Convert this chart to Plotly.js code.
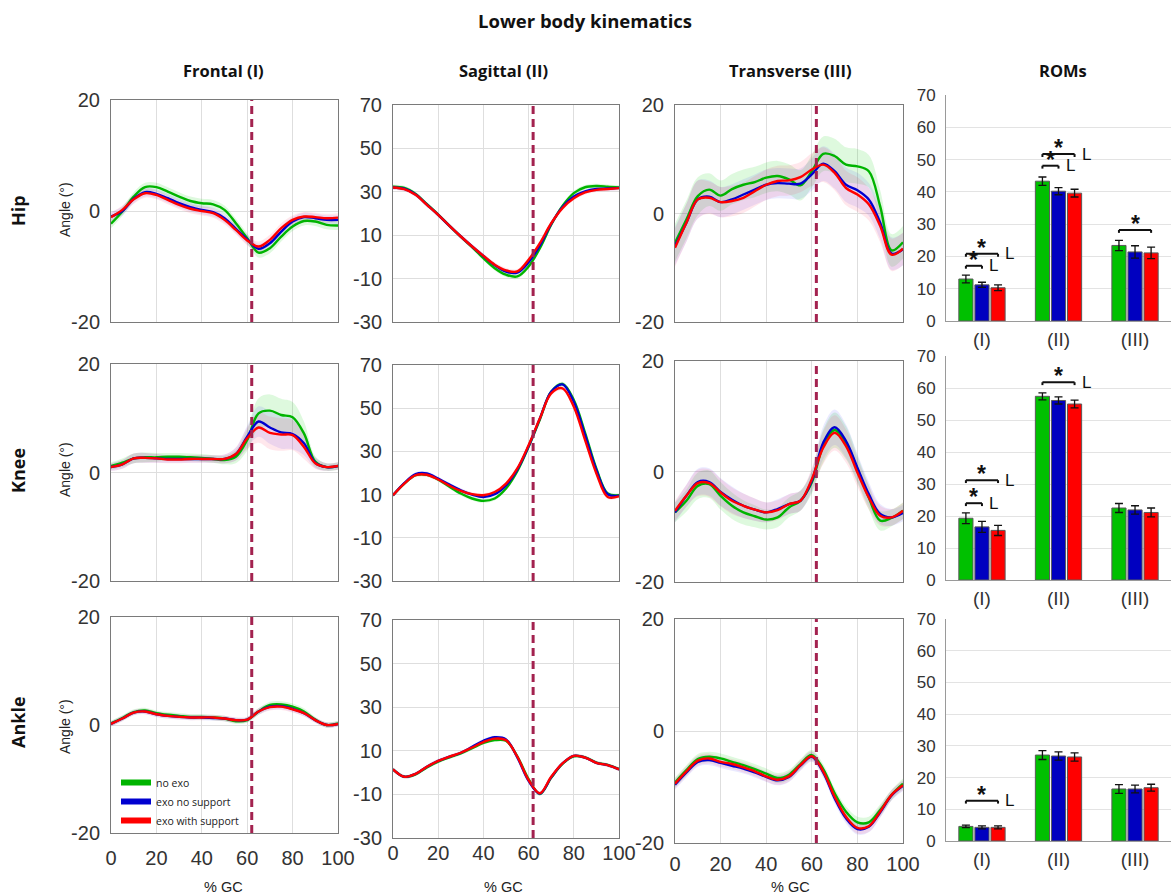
<!DOCTYPE html>
<html><head><meta charset="utf-8">
<script src="https://cdn.plot.ly/plotly-3.0.1.min.js"></script>
<style>html,body{margin:0;padding:0;background:#fff}#chart{width:1171px;height:896px}</style>
</head><body><div id="chart"></div>
<script>
// ---------------- DATA ----------------
const pctGC = [0,5,10,15,20,25,30,35,40,45,50,55,60,65,70,75,80,85,90,95,100];
const seriesNames = ['no exo','exo no support','exo with support'];
const toeOff = 62;

// Hip
const hipFrontalNoExo   = [-2.3,-0.1,2.6,4.3,4.3,3.5,2.6,1.8,1.4,1.2,0.2,-2.2,-4.9,-7.5,-6.7,-4.6,-2.8,-1.8,-1.9,-2.5,-2.6];
const hipFrontalExoNoSup= [-1.0,0.0,2.2,3.4,3.1,2.3,1.4,0.7,0.2,-0.2,-1.3,-3.2,-5.1,-6.8,-5.8,-3.7,-1.9,-1.1,-1.3,-1.6,-1.6];
const hipFrontalExoSup  = [-1.1,0.2,2.1,3.2,2.9,2.0,1.1,0.4,0.0,-0.4,-1.6,-3.4,-5.3,-6.4,-5.2,-3.1,-1.6,-1.0,-1.1,-1.3,-1.2];
const hipFrontalSD      = [0.8,0.8,0.8,0.8,0.8,0.8,0.8,0.8,0.8,0.8,0.8,0.8,0.9,0.9,0.9,0.9,0.8,0.8,0.8,0.8,0.8];

const hipSagittalNoExo   = [32.4,31.8,29.0,24.3,19.5,14.3,9.3,4.5,-0.6,-5.2,-8.2,-9.0,-4.4,4.0,14.8,23.5,29.4,32.1,32.7,32.4,32.0];
const hipSagittalExoNoSup= [32.0,31.4,28.8,24.1,19.4,14.3,9.4,4.8,0.4,-3.8,-6.8,-7.2,-2.5,5.3,15.2,23.0,27.8,30.2,31.3,31.5,31.8];
const hipSagittalExoSup  = [32.0,31.2,28.6,24.0,19.4,14.3,9.4,4.8,0.5,-3.6,-6.2,-6.7,-1.3,6.3,15.5,22.5,27.0,29.7,30.9,31.3,31.7];
const hipSagittalSD      = [1.0,1.0,1.0,1.0,1.0,1.0,1.0,1.0,1.0,1.1,1.1,1.1,1.1,1.1,1.1,1.0,1.0,1.0,1.0,1.0,1.0];

const hipTransverseNoExo   = [-5.4,-1.1,3.2,4.4,3.3,4.5,5.3,5.8,6.6,6.9,6.3,5.2,7.8,11.0,10.6,9.0,8.7,7.8,1.3,-6.8,-5.3];
const hipTransverseExoNoSup= [-6.0,-1.7,2.6,3.1,2.1,2.6,3.5,4.4,5.3,5.6,5.5,5.5,7.2,9.2,7.8,5.3,4.3,2.6,-1.7,-7.4,-6.6];
const hipTransverseExoSup  = [-6.3,-1.7,2.6,2.9,2.1,2.3,2.9,4.1,5.3,6.0,6.1,6.7,8.1,9.0,7.5,4.7,3.5,1.7,-2.3,-7.6,-6.5];
const hipTransverseSD      = [3.5,3.5,3.5,3.0,2.8,2.8,2.8,2.8,2.8,2.8,2.8,2.8,3.0,3.2,3.2,3.2,3.2,3.0,3.0,3.0,3.0];

// Knee
const kneeFrontalNoExo   = [1.2,1.8,2.6,2.8,2.8,2.9,2.9,2.8,2.7,2.5,2.3,2.9,6.0,10.9,11.4,10.6,10.2,7.2,2.0,1.0,1.2];
const kneeFrontalExoNoSup= [1.0,1.5,2.6,2.7,2.6,2.5,2.5,2.5,2.5,2.5,2.5,3.4,6.6,9.4,8.3,7.4,7.1,5.4,1.8,1.0,1.2];
const kneeFrontalExoSup  = [1.0,1.5,2.6,2.7,2.6,2.4,2.4,2.5,2.5,2.5,2.5,3.4,6.3,8.3,7.3,7.0,6.9,4.7,1.7,1.0,1.2];
const kneeFrontalSD      = [0.7,0.8,0.9,0.9,0.8,0.7,0.7,0.7,0.7,0.7,0.8,1.2,2.0,2.8,3.0,3.0,2.8,2.2,1.0,0.7,0.7];

const kneeSagittalNoExo   = [9.7,15.1,19.0,19.2,17.0,13.6,10.5,8.2,7.1,8.2,12.8,20.8,32.1,44.8,57.6,61.2,53.8,38.6,22.0,10.5,9.7];
const kneeSagittalExoNoSup= [9.7,15.3,19.5,19.8,17.4,14.6,12.0,10.0,8.9,10.2,14.3,21.6,32.4,45.3,57.6,61.0,53.0,37.5,21.3,10.2,9.5];
const kneeSagittalExoSup  = [9.7,15.1,19.0,19.2,17.0,14.1,11.7,10.2,9.7,11.2,15.1,22.1,32.9,45.3,56.9,59.2,50.7,35.2,19.8,8.9,9.2];
const kneeSagittalSD      = [0.9,0.9,0.9,0.9,0.9,0.9,0.9,0.9,0.9,0.9,0.9,0.9,1.0,1.0,1.0,1.0,1.0,1.0,0.9,0.9,0.9];

const kneeTransverseNoExo   = [-7.4,-5.3,-2.6,-2.3,-4.4,-6.2,-7.4,-8.1,-8.7,-8.3,-6.5,-5.3,-2.0,4.6,7.5,5.2,0.4,-4.7,-8.9,-8.4,-7.1];
const kneeTransverseExoNoSup= [-7.4,-4.4,-1.9,-1.9,-3.7,-5.1,-6.2,-6.9,-7.4,-6.8,-5.9,-5.3,-1.7,5.2,8.0,5.5,0.7,-4.1,-7.7,-8.3,-7.5];
const kneeTransverseExoSup  = [-7.1,-4.4,-2.1,-2.1,-3.8,-5.3,-6.2,-6.9,-7.4,-7.0,-5.9,-5.3,-1.4,4.3,7.0,4.6,-0.2,-4.7,-8.0,-8.3,-7.1];
const kneeTransverseSD      = [1.8,2.0,2.4,2.5,2.5,2.4,2.2,2.0,1.8,1.8,1.8,1.8,2.0,3.0,3.2,3.0,2.5,2.2,1.8,1.5,1.5];

// Ankle
const ankleFrontalNoExo   = [0.3,1.3,2.4,2.7,2.2,1.9,1.7,1.5,1.5,1.4,1.2,0.7,0.9,2.5,3.7,3.8,3.4,2.5,1.0,0.0,0.3];
const ankleFrontalExoNoSup= [0.2,1.2,2.3,2.5,2.0,1.7,1.5,1.4,1.4,1.3,1.2,0.9,1.0,2.5,3.4,3.5,3.0,2.2,0.9,0.0,0.2];
const ankleFrontalExoSup  = [0.2,1.2,2.3,2.5,2.0,1.7,1.5,1.4,1.4,1.4,1.2,0.9,1.0,2.5,3.3,3.4,2.9,2.2,0.9,0.0,0.2];
const ankleFrontalSD      = [0.5,0.5,0.5,0.5,0.5,0.5,0.5,0.5,0.5,0.5,0.5,0.5,0.5,0.6,0.6,0.6,0.6,0.6,0.5,0.5,0.5];

const ankleSagittalNoExo   = [1.5,-1.9,-0.8,2.4,5.0,7.0,8.8,11.2,13.6,14.9,14.6,7.5,-3.0,-9.8,-2.4,4.0,7.5,7.0,4.6,3.5,1.6];
const ankleSagittalExoNoSup= [1.5,-1.9,-0.6,2.7,5.4,7.3,9.1,11.8,14.6,16.2,15.2,7.0,-3.8,-9.6,-2.2,4.2,7.7,6.9,4.5,3.4,1.5];
const ankleSagittalExoSup  = [1.5,-1.9,-0.6,2.7,5.4,7.3,9.1,11.5,14.0,15.6,14.9,7.3,-3.4,-9.5,-1.9,4.2,7.7,6.9,4.5,3.4,1.5];
const ankleSagittalSD      = [0.8,0.8,0.8,0.8,0.8,0.8,0.8,0.8,0.8,0.8,0.8,0.8,0.8,0.8,0.8,0.8,0.8,0.8,0.8,0.8,0.8];

const ankleTransverseNoExo   = [-9.2,-7.0,-5.0,-4.6,-4.9,-5.5,-6.1,-6.8,-7.6,-8.4,-7.8,-5.9,-4.3,-6.8,-11.1,-14.4,-16.3,-16.3,-14.1,-11.4,-9.4];
const ankleTransverseExoNoSup= [-9.6,-7.4,-5.5,-5.2,-5.7,-6.2,-6.7,-7.4,-8.2,-8.8,-8.2,-6.2,-4.6,-7.4,-12.0,-15.6,-17.5,-17.1,-14.5,-11.5,-9.8];
const ankleTransverseExoSup  = [-9.4,-7.2,-5.3,-4.9,-5.5,-5.9,-6.5,-7.2,-8.1,-8.7,-8.1,-6.1,-4.5,-7.2,-11.7,-15.3,-17.3,-17.0,-14.4,-11.4,-9.7];
const ankleTransverseSD      = [0.9,0.9,0.9,0.9,0.9,0.9,0.9,0.9,0.9,0.9,0.9,0.9,0.9,0.9,0.9,0.9,1.0,1.0,1.0,0.9,0.9];

// ROMs (bars)
const romCategories = ['(I)','(II)','(III)'];
const hipRomNoExo = [13.0,43.3,23.4],    hipRomNoExoErr = [1.2,1.3,1.6];
const hipRomExoNoSup = [11.2,40.2,21.4], hipRomExoNoSupErr = [0.8,1.1,1.9];
const hipRomExoSup = [10.3,39.6,21.1],   hipRomExoSupErr = [0.9,1.2,1.8];
const kneeRomNoExo = [19.3,57.4,22.5],    kneeRomNoExoErr = [1.7,1.1,1.4];
const kneeRomExoNoSup = [16.6,56.1,21.9], kneeRomExoNoSupErr = [1.7,1.1,1.3];
const kneeRomExoSup = [15.5,55.0,21.1],   kneeRomExoSupErr = [1.6,1.2,1.4];
const ankleRomNoExo = [4.6,27.1,16.4],    ankleRomNoExoErr = [0.4,1.4,1.4];
const ankleRomExoNoSup = [4.3,26.8,16.4], ankleRomExoNoSupErr = [0.5,1.3,1.2];
const ankleRomExoSup = [4.3,26.5,16.8],   ankleRomExoSupErr = [0.5,1.3,1.1];

// Significance brackets: joint row, plane group, from bar, to bar, height, has "L"
const sigRow   = [0,0,0,0,0,1,1,1,2];
const sigGroup = [0,0,1,1,2,0,0,1,0];
const sigFrom  = [0,0,0,0,0,0,0,0,0];
const sigTo    = [1,2,1,2,2,1,2,2,2];
const sigY     = [17.1,20.8,48.1,51.7,28.2,24.0,31.2,61.8,12.7];
const sigL     = [true,true,true,true,false,true,true,true,true];

const jointNames = ['Hip','Knee','Ankle'];
const planeTitles = ['Frontal (I)','Sagittal (II)','Transverse (III)','ROMs'];

// ---------------- LAYOUT / DRAW ----------------
const W = 1171, H = 896;
const lineColors = ['#00b400','#0000d0','#ff0000'];
const bandColors = ['rgba(0,210,0,0.13)','rgba(60,60,255,0.11)','rgba(255,40,80,0.11)'];
const barColors = ['#00c000','#0000c0','#ff0000'];
const colX = [[111,338],[393,619],[675,903],[946,1171]];
const rowY = [
  [[100,322],[105,322],[105,322],[95,321]],
  [[364,581],[365,581],[361,582],[356,580]],
  [[617,833],[620,838],[619,843],[619,841]]
];
const panels = [
  [[hipFrontalNoExo,hipFrontalExoNoSup,hipFrontalExoSup,hipFrontalSD],
   [hipSagittalNoExo,hipSagittalExoNoSup,hipSagittalExoSup,hipSagittalSD],
   [hipTransverseNoExo,hipTransverseExoNoSup,hipTransverseExoSup,hipTransverseSD]],
  [[kneeFrontalNoExo,kneeFrontalExoNoSup,kneeFrontalExoSup,kneeFrontalSD],
   [kneeSagittalNoExo,kneeSagittalExoNoSup,kneeSagittalExoSup,kneeSagittalSD],
   [kneeTransverseNoExo,kneeTransverseExoNoSup,kneeTransverseExoSup,kneeTransverseSD]],
  [[ankleFrontalNoExo,ankleFrontalExoNoSup,ankleFrontalExoSup,ankleFrontalSD],
   [ankleSagittalNoExo,ankleSagittalExoNoSup,ankleSagittalExoSup,ankleSagittalSD],
   [ankleTransverseNoExo,ankleTransverseExoNoSup,ankleTransverseExoSup,ankleTransverseSD]]
];
const roms = [
  [[hipRomNoExo,hipRomNoExoErr],[hipRomExoNoSup,hipRomExoNoSupErr],[hipRomExoSup,hipRomExoSupErr]],
  [[kneeRomNoExo,kneeRomNoExoErr],[kneeRomExoNoSup,kneeRomExoNoSupErr],[kneeRomExoSup,kneeRomExoSupErr]],
  [[ankleRomNoExo,ankleRomNoExoErr],[ankleRomExoNoSup,ankleRomExoNoSupErr],[ankleRomExoSup,ankleRomExoSupErr]]
];

const TICKFONT = 'Liberation Sans, Arial, sans-serif';
const TITLEFONT = 'Open Sans, sans-serif';
const traces = [], shapes = [], annotations = [];
const layout = {
  width: W, height: H, margin: {l:0,r:0,t:0,b:0},
  paper_bgcolor: '#fff', plot_bgcolor: '#fff',
  barmode: 'group', bargap: 0.37, bargroupgap: 0.12,
  showlegend: true,
  legend: {x: 116/W, y: 1-768/H, xanchor: 'left', yanchor: 'top', bgcolor: 'rgba(0,0,0,0)',
           traceorder: 'normal',
           font: {size: 10.5, family: TITLEFONT, color: '#222'}, itemwidth: 30, tracegroupgap: 0},
  font: {family: TICKFONT, color: '#333'}
};
const axId = k => (k === 1 ? '' : String(k));
const tickText = vals => vals.map(v => String(v));

for (let r = 0; r < 3; r++) {
  for (let c = 0; c < 4; c++) {
    const k = r*4 + c + 1;
    const xa = 'x' + axId(k), ya = 'y' + axId(k);
    const xd = [colX[c][0]/W, colX[c][1]/W];
    const yd = [1 - rowY[r][c][1]/H, 1 - rowY[r][c][0]/H];
    if (c < 3) {
      const standoffs = [7, -3, 3];
      const xt = [0,20,40,60,80,100];
      layout['xaxis' + axId(k)] = {
        domain: xd, anchor: ya, range: [0, 100], tickvals: xt, ticktext: tickText(xt),
        showticklabels: r === 2, ticks: '', ticklabelstandoff: standoffs[c],
        tickfont: {size: 20, family: TICKFONT, color: '#333'},
        showgrid: true, gridcolor: '#dedede', gridwidth: 1,
        zeroline: false, showline: true, mirror: true, linecolor: '#7a7a7a', linewidth: 1, fixedrange: true
      };
      const yt = c === 1 ? [-30,-10,10,30,50,70] : [-20,0,20];
      const yr = c === 1 ? [-30,70] : [-20,20];
      layout['yaxis' + axId(k)] = {
        domain: yd, anchor: xa, range: yr, tickvals: yt, ticktext: tickText(yt), ticks: '', ticklabelstandoff: 6,
        tickfont: {size: 20, family: TICKFONT, color: '#333'},
        showgrid: true, gridcolor: '#dedede', gridwidth: 1,
        zeroline: false, showline: true, mirror: true, linecolor: '#7a7a7a', linewidth: 1, fixedrange: true
      };
      const p = panels[r][c];
      const sd = p[3];
      for (let s = 0; s < 3; s++) {
        traces.push({x: pctGC, y: p[s].map((v,i) => v - sd[i]), xaxis: xa, yaxis: ya, mode: 'lines',
          line: {width: 0, shape: 'spline', smoothing: 1}, hoverinfo: 'skip', showlegend: false});
        traces.push({x: pctGC, y: p[s].map((v,i) => v + sd[i]), xaxis: xa, yaxis: ya, mode: 'lines',
          line: {width: 0, shape: 'spline', smoothing: 1}, fill: 'tonexty', fillcolor: bandColors[s],
          hoverinfo: 'skip', showlegend: false});
      }
      for (let s = 0; s < 3; s++) {
        traces.push({x: pctGC, y: p[s], xaxis: xa, yaxis: ya, mode: 'lines', name: seriesNames[s],
          line: {color: lineColors[s], width: 2.4, shape: 'spline', smoothing: 1}, showlegend: false});
      }
      shapes.push({type: 'line', xref: xa, yref: ya + ' domain', x0: toeOff, x1: toeOff, y0: 0, y1: 1,
        line: {color: '#a3224f', width: 3, dash: '8px,5px'}});
    } else {
      const yt = [0,10,20,30,40,50,60,70];
      layout['xaxis' + axId(k)] = {
        domain: xd, anchor: ya, range: [-0.47, 2.47], tickvals: [0,1,2], ticktext: romCategories,
        ticks: '', ticklabelstandoff: 1, tickfont: {size: 19, family: TICKFONT, color: '#333'},
        showgrid: false, zeroline: false, showline: true, linecolor: '#9a9a9a', linewidth: 1, fixedrange: true
      };
      layout['yaxis' + axId(k)] = {
        domain: yd, anchor: xa, range: [0, 70], tickvals: yt, ticktext: tickText(yt), ticks: '',
        ticklabelstandoff: 6, tickfont: {size: 17, family: TICKFONT, color: '#333'},
        showgrid: true, gridcolor: '#e3e3e3', gridwidth: 1, zeroline: false,
        showline: true, linecolor: '#9a9a9a', linewidth: 1, fixedrange: true
      };
      for (let s = 0; s < 3; s++) {
        traces.push({type: 'bar', x: [0,1,2], y: roms[r][s][0], xaxis: xa, yaxis: ya, name: seriesNames[s],
          marker: {color: barColors[s], line: {color: '#5a5a5a', width: 1}},
          error_y: {type: 'data', array: roms[r][s][1], visible: true, color: '#111', thickness: 1.3, width: 4},
          showlegend: false, hoverinfo: 'y'});
      }
    }
  }
}

// significance brackets
const barOffset = (1 - layout.bargap) / 3;
for (let i = 0; i < sigRow.length; i++) {
  const k = sigRow[i]*4 + 4;
  const xa = 'x' + axId(k), ya = 'y' + axId(k);
  const x0 = sigGroup[i] + (sigFrom[i] - 1) * barOffset;
  const x1 = sigGroup[i] + (sigTo[i] - 1) * barOffset;
  const y = sigY[i], dy = 0.9;
  const ln = {color: '#111', width: 2};
  shapes.push({type: 'line', xref: xa, yref: ya, x0: x0, x1: x1, y0: y, y1: y, line: ln});
  shapes.push({type: 'line', xref: xa, yref: ya, x0: x0, x1: x0, y0: y, y1: y - dy, line: ln});
  shapes.push({type: 'line', xref: xa, yref: ya, x0: x1, x1: x1, y0: y, y1: y - dy, line: ln});
  annotations.push({xref: xa, yref: ya, x: (x0 + x1)/2, y: y, text: '<b>*</b>', showarrow: false,
    xanchor: 'center', yanchor: 'bottom', yshift: -9, font: {size: 23, family: TICKFONT, color: '#111'}});
  if (sigL[i]) {
    annotations.push({xref: xa, yref: ya, x: x1, y: y, text: 'L', showarrow: false,
      xanchor: 'left', yanchor: 'middle', xshift: 5, yshift: 0, font: {size: 17, family: TICKFONT, color: '#111'}});
  }
}

// legend-only swatches
for (let s = 0; s < 3; s++) {
  traces.push({x: [null], y: [null], xaxis: 'x9', yaxis: 'y9', mode: 'lines', name: seriesNames[s],
    line: {color: lineColors[s], width: 6}, showlegend: true, hoverinfo: 'skip'});
}

// texts
const P = (px, py, text, opts) => Object.assign({xref: 'paper', yref: 'paper', x: px/W, y: 1 - py/H,
  text: text, showarrow: false, xanchor: 'center', yanchor: 'middle'}, opts);
annotations.push(P(585, 20, '<b>Lower body kinematics</b>', {font: {size: 18.5, family: TITLEFONT, color: '#111'}}));
const titleX = [224, 503, 790, 1063];
for (let c = 0; c < 4; c++) {
  annotations.push(P(titleX[c], 71, '<b>' + planeTitles[c] + '</b>', {font: {size: 16.5, family: TITLEFONT, color: '#111'}}));
}
const rowMid = [211, 471, 722];
const angleMid = [210, 470, 727];
for (let r = 0; r < 3; r++) {
  annotations.push(P(18, rowMid[r], '<b>' + jointNames[r] + '</b>', {textangle: -90, font: {size: 18, family: TITLEFONT, color: '#111'}}));
  annotations.push(P(65, angleMid[r], 'Angle (°)', {textangle: -90, font: {size: 14, family: TICKFONT, color: '#222'}}));
}
for (let c = 0; c < 3; c++) {
  annotations.push(P(titleX[c], 887, '% GC', {font: {size: 14.5, family: TICKFONT, color: '#222'}}));
}
layout.shapes = shapes;
layout.annotations = annotations;

Plotly.newPlot('chart', traces, layout, {displayModeBar: false, staticPlot: true});
</script>
</body></html>
